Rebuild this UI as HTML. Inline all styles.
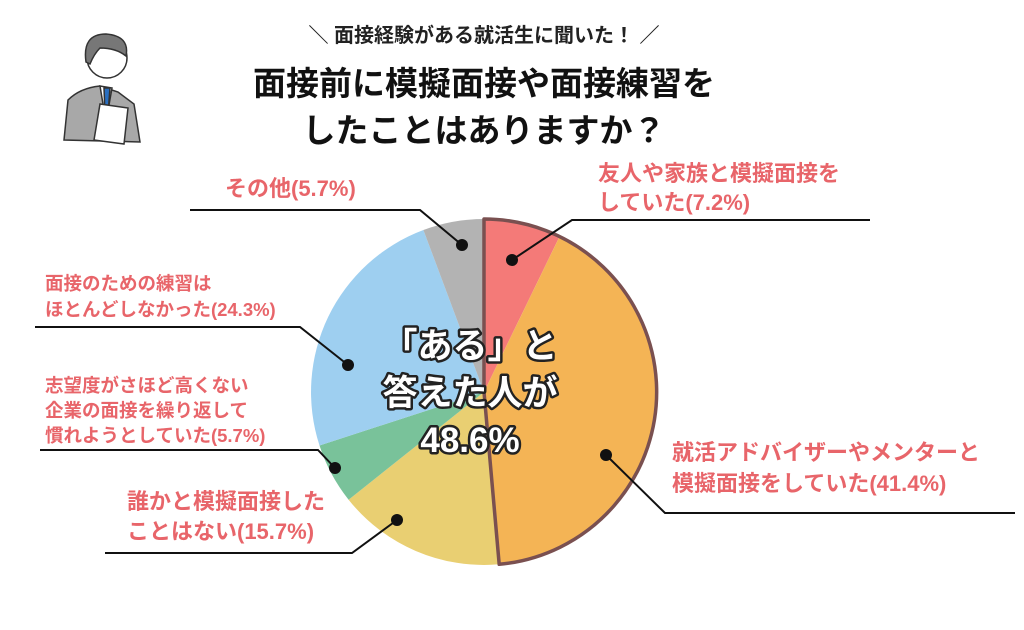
<!DOCTYPE html>
<html><head><meta charset="utf-8"><style>
html,body{margin:0;padding:0;background:#fff;}
svg{display:block;}
text{font-family:"Liberation Sans","Noto Sans CJK JP",sans-serif;font-weight:bold;}
.lab{fill:#e8656a;font-size:22px;}
.sm{fill:#e8656a;font-size:18.5px;}
.c{fill:#fff;stroke:#222;stroke-width:5px;paint-order:stroke;stroke-linejoin:round;font-size:35px;text-anchor:middle;}
</style></head><body>
<svg width="1024" height="630" viewBox="0 0 1024 630">
<text x="484" y="42" font-size="20" fill="#222" text-anchor="middle">＼  面接経験がある就活生に聞いた！  ／</text>
<text x="484" y="95" font-size="33" fill="#111" text-anchor="middle">面接前に模擬面接や面接練習を</text>
<text x="484" y="142" font-size="33" fill="#111" text-anchor="middle">したことはありますか？</text>
<!-- person -->
<g stroke="#333" stroke-width="1.5">
<path d="M64 140 L68 100 Q80 88 100 86 L118 92 L134 104 L140 142 Z" fill="#a8a8a8"/>
<path d="M100 86 L106 122 L112 88 Z" fill="#fff"/>
<path d="M104 88 L110 88 L108 114 L105 114 Z" fill="#2a6fc0"/>
<circle cx="107" cy="58" r="20" fill="#fff"/>
<path d="M86 62 Q82 34 106 34 Q130 36 126 56 Q116 48 100 48 Q94 54 90 64 Z" fill="#777"/>
<path d="M100 104 L128 108 L124 144 L94 140 Z" fill="#fff"/>
</g>
<!-- pie -->
<path d="M484 392 L484 219 A173 173 0 0 1 559.6 236.4 Z" fill="#f47a78"/>
<path d="M484 392 L559.6 236.4 A173 173 0 0 1 499.2 564.3 Z" fill="#f4b455"/>
<path d="M484 392 L499.2 564.3 A173 173 0 0 1 348.6 499.7 Z" fill="#e9cf72"/>
<path d="M484 392 L348.6 499.7 A173 173 0 0 1 319.5 445.5 Z" fill="#79c29a"/>
<path d="M484 392 L319.5 445.5 A173 173 0 0 1 423.4 230 Z" fill="#9ecff0"/>
<path d="M484 392 L423.4 230 A173 173 0 0 1 484 219 Z" fill="#b3b3b3"/>
<path d="M484 392 L484 219 A173 173 0 0 1 499.2 564.3 Z" fill="none" stroke="#7a5050" stroke-width="3.5" stroke-linejoin="round"/>
<!-- leaders -->
<g stroke="#111" stroke-width="2" fill="none">
<polyline points="512,260 572,220 870,220"/>
<polyline points="606,455 665,513 1015,513"/>
<polyline points="397,520 352,553 105,553"/>
<polyline points="335,468 318,450 40,450"/>
<polyline points="348,365 300,327 35,327"/>
<polyline points="462,245 420,210 190,210"/>
</g>
<g fill="#111">
<circle cx="512" cy="260" r="6"/><circle cx="606" cy="455" r="6"/>
<circle cx="397" cy="520" r="6"/><circle cx="335" cy="468" r="6"/>
<circle cx="348" cy="365" r="6"/><circle cx="462" cy="245" r="6"/>
</g>
<!-- labels -->
<text class="lab" x="598" y="181">友人や家族と模擬面接を</text>
<text class="lab" x="598" y="210">していた(7.2%)</text>
<text class="lab" x="225" y="196">その他(5.7%)</text>
<text class="sm" x="45" y="290">面接のための練習は</text>
<text class="sm" x="45" y="316">ほとんどしなかった(24.3%)</text>
<text class="sm" x="45" y="392">志望度がさほど高くない</text>
<text class="sm" x="45" y="417">企業の面接を繰り返して</text>
<text class="sm" x="45" y="442">慣れようとしていた(5.7%)</text>
<text class="lab" x="127" y="509">誰かと模擬面接した</text>
<text class="lab" x="127" y="539">ことはない(15.7%)</text>
<text class="lab" x="672" y="460">就活アドバイザーやメンターと</text>
<text class="lab" x="672" y="491">模擬面接をしていた(41.4%)</text>
<!-- center -->
<text class="c" x="470" y="358">「ある」と</text>
<text class="c" x="470" y="405">答えた人が</text>
<text class="c" x="470" y="452">48.6%</text>
</svg>
</body></html>
